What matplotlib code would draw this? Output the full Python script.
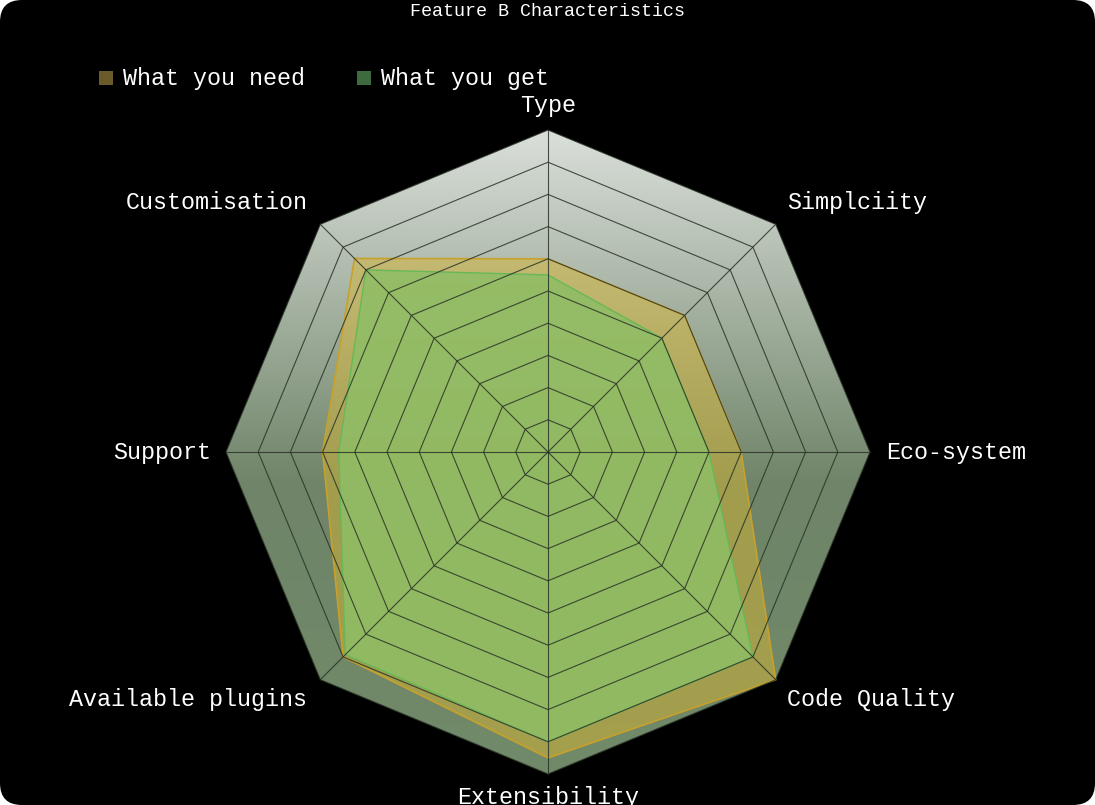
import numpy as np
import matplotlib.pyplot as plt
from matplotlib.patches import Polygon, FancyBboxPatch
from matplotlib.colors import LinearSegmentedColormap

# Data
categories = ["Type", "Simplciity", "Eco-system", "Code Quality",
              "Extensibility", "Available plugins", "Support", "Customisation"]
need = [6, 6, 6, 10, 9.5, 9, 7, 8.5]
get = [5.5, 5, 5, 9, 9, 8.9, 6.5, 8]
maxValue = 10
series = ["What you need", "What you get"]

# label offsets in pixels and alignment
labelOffsets = [(0, 25), (11, 22), (16, 0), (11, -20),
                (0, -23), (-13, -20), (-15, 0), (-13, 22)]
labelAlign = ["center", "left", "left", "left", "center", "right", "right", "right"]

plt.rcParams['font.family'] = ['Liberation Mono', 'DejaVu Sans Mono']

fig = plt.figure(figsize=(10.95, 8.05), dpi=100)
fig.patch.set_facecolor('white')
box = FancyBboxPatch((0.0, 0.0), 1.0, 1.0,
                     boxstyle="round,pad=0,rounding_size=0.02",
                     transform=fig.transFigure, facecolor='black',
                     edgecolor='none', mutation_aspect=1095/805, zorder=-10)
fig.patches.append(box)

ax = fig.add_axes([0, 0, 1, 1])
ax.set_facecolor('none')
ax.set_zorder(1)
scale = 32.2
ax.set_xlim(-548/scale, (1095-548)/scale)
ax.set_ylim(-(805-452)/scale, 452/scale)
ax.axis('off')

n = len(categories)
angles = np.arange(n) * 2*np.pi/n

def toXY(values):
    v = np.asarray(values, dtype=float)
    return np.column_stack([v*np.sin(angles), v*np.cos(angles)])

# Octagon background with gradient
outer = toXY([maxValue]*n)
cmap = LinearSegmentedColormap.from_list(
    "bg", [(0.0, "#dadfda"), (0.55, "#6f8468"), (1.0, "#718a69")])
grad = np.linspace(0, 1, 256).reshape(-1, 1)
im = ax.imshow(grad, cmap=cmap, extent=[-maxValue, maxValue, -maxValue, maxValue],
               origin='upper', aspect='auto', zorder=1)
clip = Polygon(outer, closed=True, transform=ax.transData, facecolor='none',
               edgecolor='none')
ax.add_patch(clip)
im.set_clip_path(clip)

# Series fills
needXY = toXY(need)
getXY = toXY(get)
ax.add_patch(Polygon(needXY, closed=True, facecolor='#d6b534', alpha=0.5,
                     edgecolor='none', zorder=2))
ax.add_patch(Polygon(needXY, closed=True, facecolor='none', edgecolor='#c8a02c',
                     linewidth=1.2, zorder=2.1))
ax.add_patch(Polygon(getXY, closed=True, facecolor='#8fbd65', alpha=0.88,
                     edgecolor='none', zorder=2.2))
ax.add_patch(Polygon(getXY, closed=True, facecolor='none', edgecolor='#68b858',
                     linewidth=1.0, zorder=2.3))

# Grid rings and spokes
for ring in range(1, maxValue+1):
    ringXY = toXY([ring]*n)
    ax.add_patch(Polygon(ringXY, closed=True, facecolor='none', edgecolor='#2a3326',
                         linewidth=0.8, alpha=0.85, zorder=3))
for p in outer:
    ax.plot([0, p[0]], [0, p[1]], color='#2a3326', linewidth=0.8, alpha=0.85, zorder=3)

# Labels
for i, name in enumerate(categories):
    ax.annotate(name, xy=outer[i], xytext=labelOffsets[i], textcoords='offset pixels',
                ha=labelAlign[i], va='center', color='white', fontsize=16.8,
                annotation_clip=False, zorder=5)

fig.text(548/1095, 1-12/805, "Feature B Characteristics", ha='center', va='center',
         color='white', fontsize=13.2)

# Legend
legendColors = ['#6b5a2a', '#3d6b3d']
legendX = [99, 357]
for name, col, lx in zip(series, legendColors, legendX):
    fig.patches.append(plt.Rectangle((lx/1095, 1-85/805), 14/1095, 14/805,
                                     transform=fig.transFigure, facecolor=col,
                                     edgecolor='none'))
    fig.text((lx+24)/1095, 1-78/805, name, ha='left', va='center', color='white',
             fontsize=16.8)

fig.savefig("out.png", dpi=100, facecolor=fig.get_facecolor())
